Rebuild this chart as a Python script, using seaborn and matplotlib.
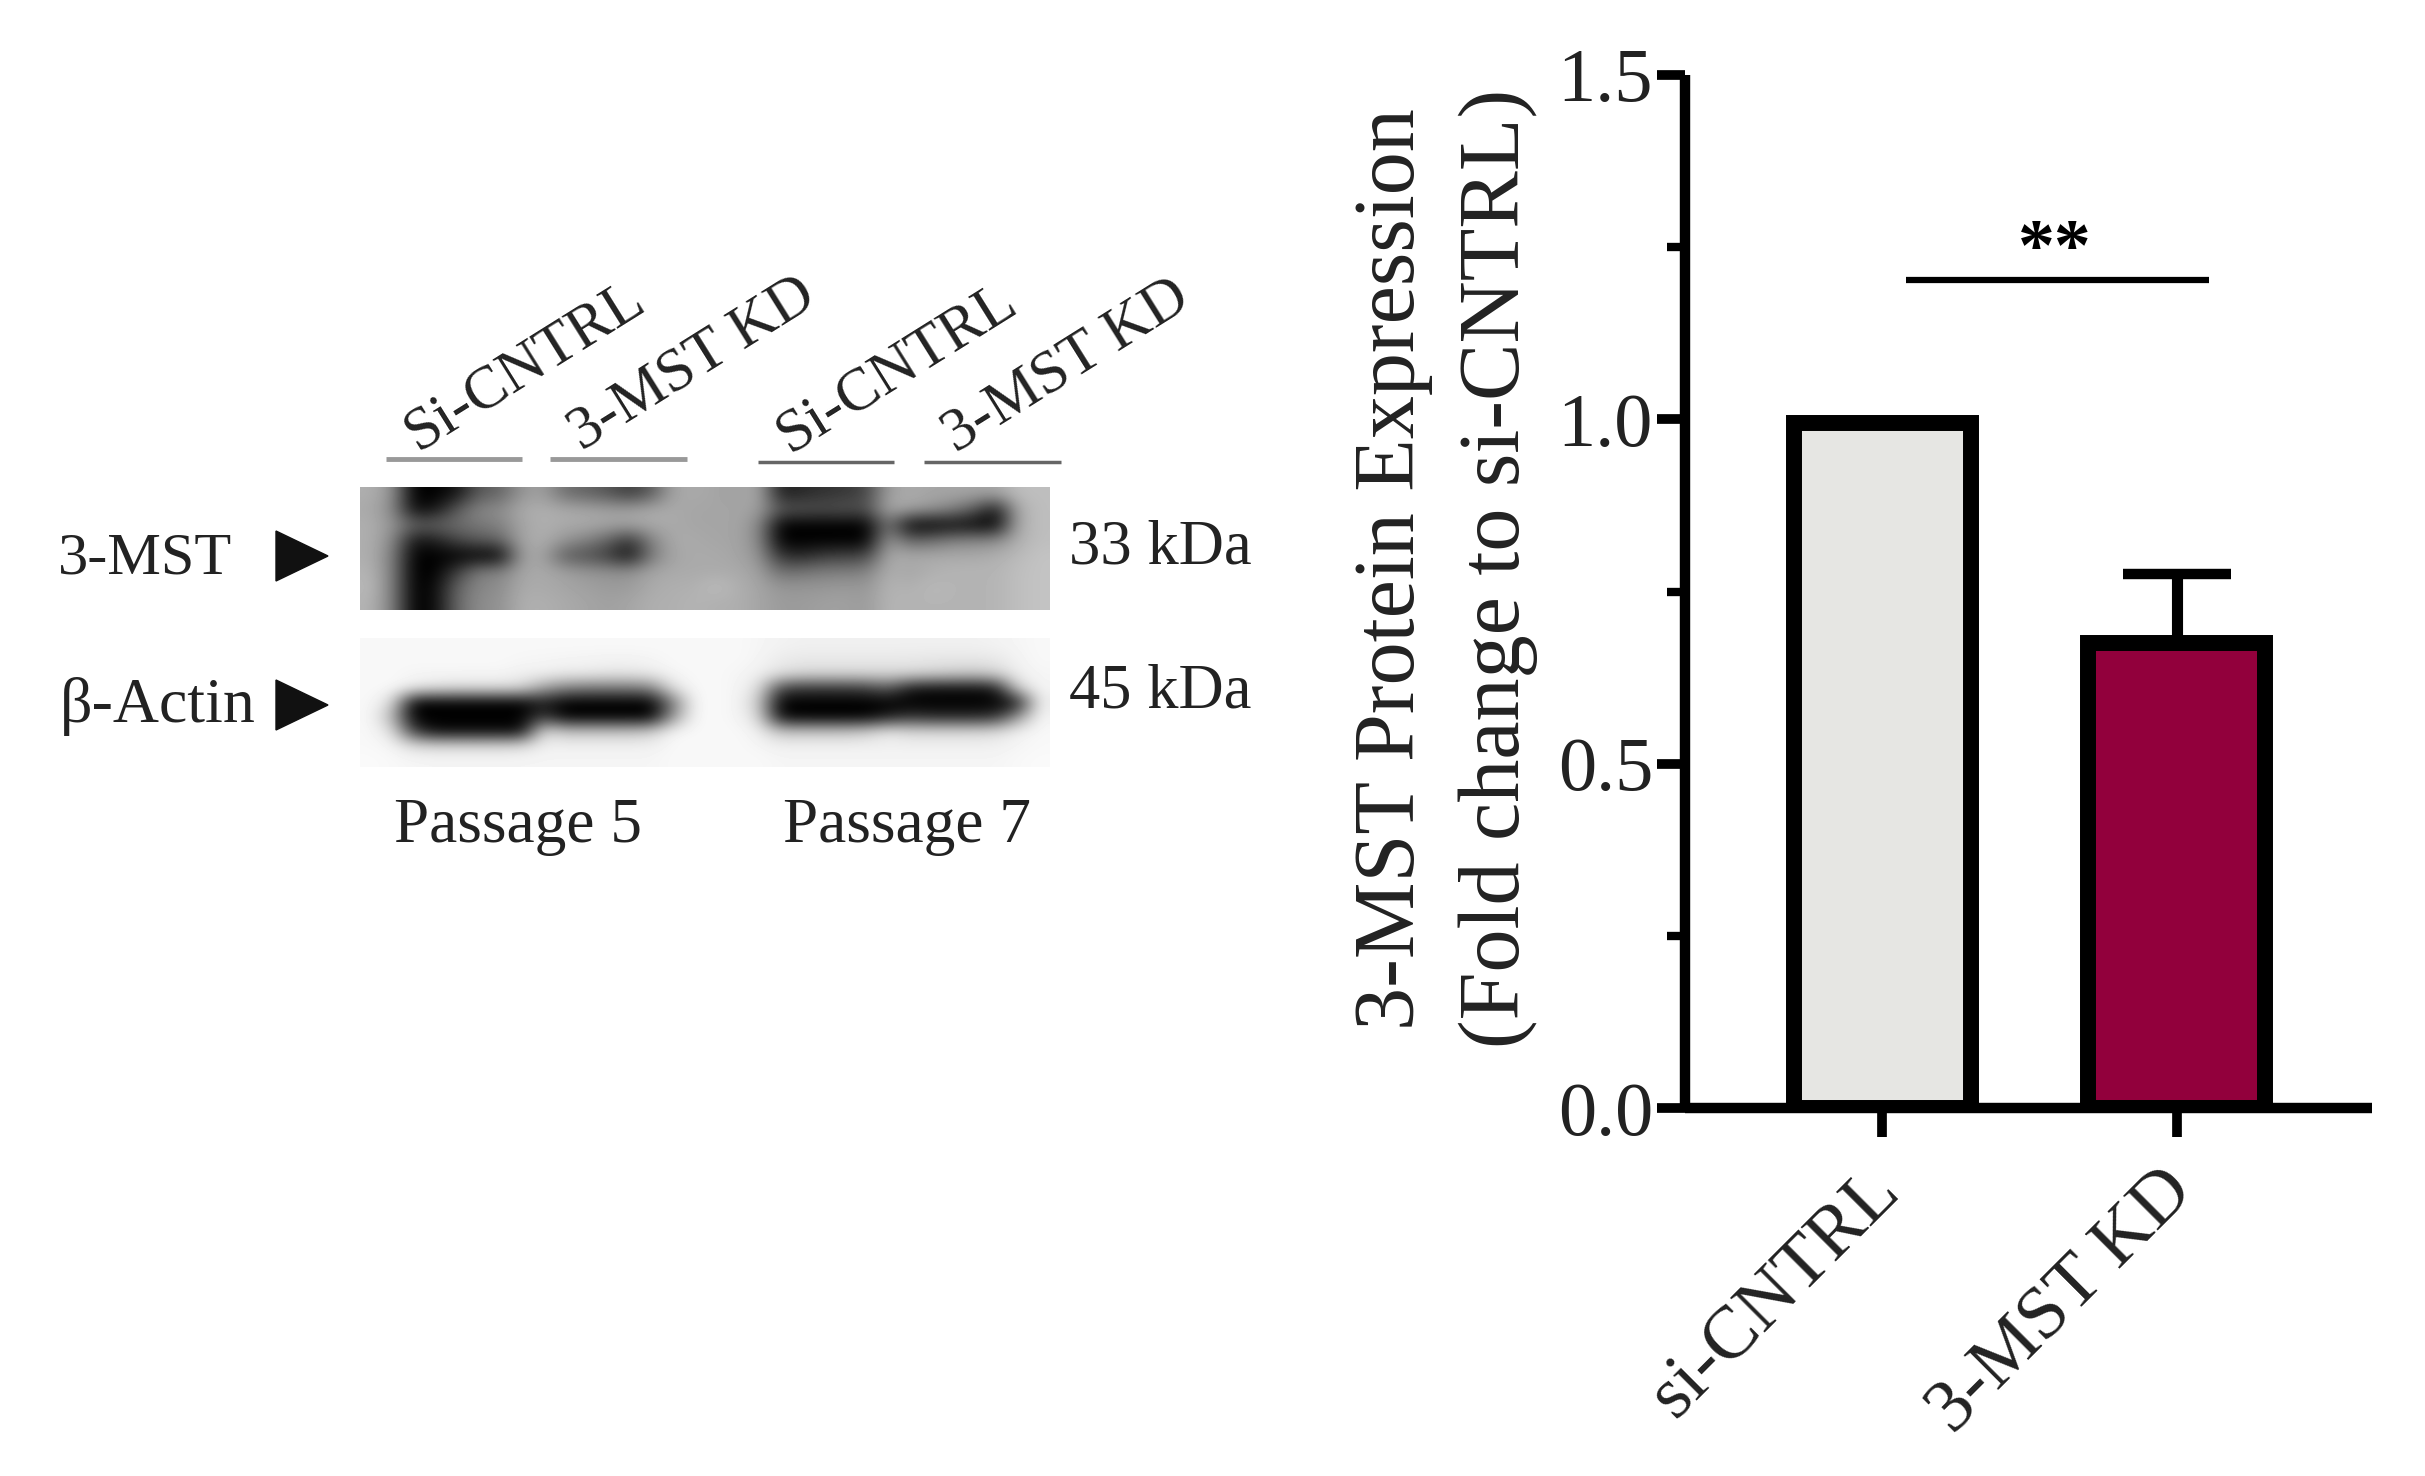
import numpy as np
import pandas as pd
import matplotlib
matplotlib.use('Agg')
import matplotlib.pyplot as plt
from matplotlib.patches import Polygon
from matplotlib.transforms import ScaledTranslation
import seaborn as sns

# Bar chart values
groups = ['si-CNTRL', '3-MST KD']
expression = [0.995, 0.675]
upper_error = [0.0, 0.1]
bar_colours = ['#E6E6E3', '#92003C']
y_major = [0.0, 0.5, 1.0, 1.5]
y_minor = [0.25, 0.75, 1.25]
sig_span = [0.08, 1.11]
sig_level = 1.202
sig_text = '**'

# Blot labels
lane_labels = ['Si-CNTRL', '3-MST KD', 'Si-CNTRL', '3-MST KD']
passage_labels = ['Passage 5', 'Passage 7']
protein_labels = ['3-MST', 'β-Actin']
weight_labels = ['33 kDa', '45 kDa']

# Blot grey levels, top to bottom
blot_3mst = [
    [175,150,0,0,20,90,100,150,160,110,100,85,60,90,165,170,165,160,170,30,40,50,55,70,160,170,165,165,165,165,190,190],
    [170,140,10,20,90,135,140,170,175,170,165,160,160,170,170,165,165,165,160,90,85,80,85,80,170,165,150,130,90,20,170,190],
    [175,150,100,100,110,120,130,165,175,170,170,165,165,170,170,165,165,165,140,0,0,0,0,0,120,0,0,10,5,0,170,190],
    [175,140,20,30,70,90,100,165,175,150,130,100,50,130,170,170,165,165,140,0,0,0,0,0,155,100,110,130,135,140,175,190],
    [175,130,0,0,0,0,0,160,165,90,80,60,15,120,165,170,170,165,150,50,40,60,65,70,170,170,170,170,170,175,185,195],
    [180,130,0,0,60,125,130,165,170,160,150,145,145,165,170,170,170,170,160,110,115,125,125,130,175,165,175,180,180,180,190,195],
    [185,130,0,10,100,135,140,170,170,165,160,155,155,170,175,175,190,175,165,150,150,150,155,150,180,175,185,180,180,180,190,195],
    [180,130,0,10,105,140,145,175,175,170,165,160,165,175,175,180,175,175,165,155,155,160,160,155,180,180,180,180,180,180,190,195],
]
blot_actin = [
    [248,248,248,248,248,248,248,248,248,248,248,248,248,248,248,248,248,248,245,242,240,240,240,240,240,240,240,240,240,242,245,248],
    [248,248,248,248,248,248,248,246,245,244,243,242,242,244,248,248,248,248,244,235,232,232,232,232,232,232,230,230,230,232,242,248],
    [248,248,245,245,245,245,245,240,240,235,235,230,230,235,245,248,248,245,240,225,215,215,215,215,215,215,210,205,200,210,240,245],
    [248,248,235,225,220,220,220,215,160,130,120,120,120,130,225,248,248,245,225,70,55,55,55,60,90,25,15,15,15,25,210,245],
    [248,220,0,0,0,0,0,0,30,0,0,0,0,0,120,248,248,245,205,0,0,0,0,0,0,0,0,0,0,0,20,240],
    [248,185,0,0,0,0,0,0,60,0,0,0,0,0,150,248,248,245,220,10,0,0,0,0,30,50,40,40,40,50,150,245],
    [248,225,60,10,10,10,10,10,220,195,195,195,195,205,245,248,248,248,240,195,195,195,195,205,230,215,215,215,215,220,240,248],
    [248,245,220,215,215,215,215,220,240,240,240,240,240,240,248,248,248,248,245,240,240,240,240,240,240,240,240,240,240,240,245,248],
    [250,248,246,245,245,245,245,245,245,245,245,245,245,245,248,248,248,248,248,245,245,245,245,245,245,245,245,245,245,245,248,250],
]

sns.set_theme(style='white')
plt.rcParams['font.family'] = ['Liberation Serif', 'DejaVu Serif']
text_colour = '#222222'

W, H = 2425, 1476
fig = plt.figure(figsize=(W / 100, H / 100), dpi=100, facecolor='white')


def px_axes(x0, y0, x1, y1):
    return fig.add_axes([x0 / W, 1 - y1 / H, (x1 - x0) / W, (y1 - y0) / H])


# Bar chart
ax = px_axes(1685, 75, 2372, 1108)
df = pd.DataFrame({'group': groups, 'expression': expression})
ax.errorbar(groups, expression, yerr=[[0, 0], upper_error], fmt='none',
            ecolor='black', elinewidth=8, capsize=39, capthick=7.5, zorder=1)
sns.barplot(data=df, x='group', y='expression', hue='group', palette=bar_colours,
            edgecolor='black', linewidth=11.5, width=0.6, legend=False,
            saturation=1, ax=ax, zorder=2)
ax.set_xlim(-0.671, 1.664)
ax.set_ylim(0, 1.5)
ax.set_yticks(y_major)
ax.set_yticks(y_minor, minor=True)
ax.set_yticklabels([f'{v:.1f}' for v in y_major])
ax.set_xticks(range(len(groups)))
ax.set_xticklabels(groups, rotation=45, ha='right', rotation_mode='anchor',
                   fontsize=54, color=text_colour)
ax.tick_params(axis='y', which='major', length=20, width=7, pad=3, left=True,
               labelsize=55, labelcolor=text_colour, color='black')
ax.tick_params(axis='y', which='minor', length=13, width=6, left=True, color='black')
ax.tick_params(axis='x', which='major', length=21, width=7, pad=12, bottom=True, color='black')
# tick_params resets label transforms, so shift the labels after it
nudge = ScaledTranslation(-0.17, -0.03, fig.dpi_scale_trans)
for label in ax.get_xticklabels():
    label.set_transform(label.get_transform() + nudge)
ax.set_xlabel('')
ax.set_ylabel('3-MST Protein Expression\n(Fold change to si-CNTRL)', fontsize=62,
              color=text_colour, linespacing=1.42)
ax.yaxis.set_label_coords(-0.214, 0.522)
sns.despine(ax=ax)
for side in ['left', 'bottom']:
    ax.spines[side].set_linewidth(7.5)
    ax.spines[side].set_color('black')
    ax.spines[side].set_capstyle('butt')
ax.patch.set_alpha(0)

ax.plot(sig_span, [sig_level, sig_level], color='black', lw=4.5, solid_capstyle='butt')
ax.text(sum(sig_span) / 2 - 0.01, sig_level - 0.008, sig_text, ha='center', va='bottom',
        fontsize=53, fontweight='bold', color='black')

# Blot panels
ax_top = px_axes(360, 487, 1050, 610)
ax_top.imshow(np.array(blot_3mst), cmap='gray', vmin=0, vmax=255, aspect='auto',
              interpolation='bicubic')
ax_top.axis('off')

ax_low = px_axes(360, 638, 1050, 767)
ax_low.imshow(np.array(blot_actin), cmap='gray', vmin=0, vmax=255, aspect='auto',
              interpolation='bicubic')
ax_low.axis('off')

# Blot annotation layer, in image pixels
over = fig.add_axes([0, 0, 1, 1])
over.set_xlim(0, W)
over.set_ylim(H, 0)
over.axis('off')
over.patch.set_alpha(0)

lane_anchor = [(418, 451), (582, 451), (790, 453), (956, 453)]
for label, (x, y) in zip(lane_labels, lane_anchor):
    over.text(x, y, label, rotation=32, rotation_mode='anchor', ha='left', va='baseline',
              fontsize=44, color=text_colour)

for x0, x1, y, col, lw in [(386, 522, 459, '#999999', 3.5), (550, 687, 459, '#999999', 3.5),
                           (758, 894, 462, '#666666', 2.5), (924, 1061, 462, '#666666', 2.5)]:
    over.plot([x0, x1], [y, y], color=col, lw=lw, solid_capstyle='butt')

over.text(58, 573, protein_labels[0], fontsize=43.5, color=text_colour, va='baseline')
over.text(60, 722, protein_labels[1], fontsize=46, color=text_colour, va='baseline')
for y in [531, 680]:
    over.add_patch(Polygon([(276, y), (328, y + 25), (276, y + 50)], closed=True, color='#111111'))

over.text(1069, 563, weight_labels[0], fontsize=45, color=text_colour, va='baseline')
over.text(1069, 707, weight_labels[1], fontsize=45, color=text_colour, va='baseline')
over.text(394, 842, passage_labels[0], fontsize=45.5, color=text_colour, va='baseline')
over.text(783, 842, passage_labels[1], fontsize=45.5, color=text_colour, va='baseline')

fig.savefig('out.png', dpi=100)
